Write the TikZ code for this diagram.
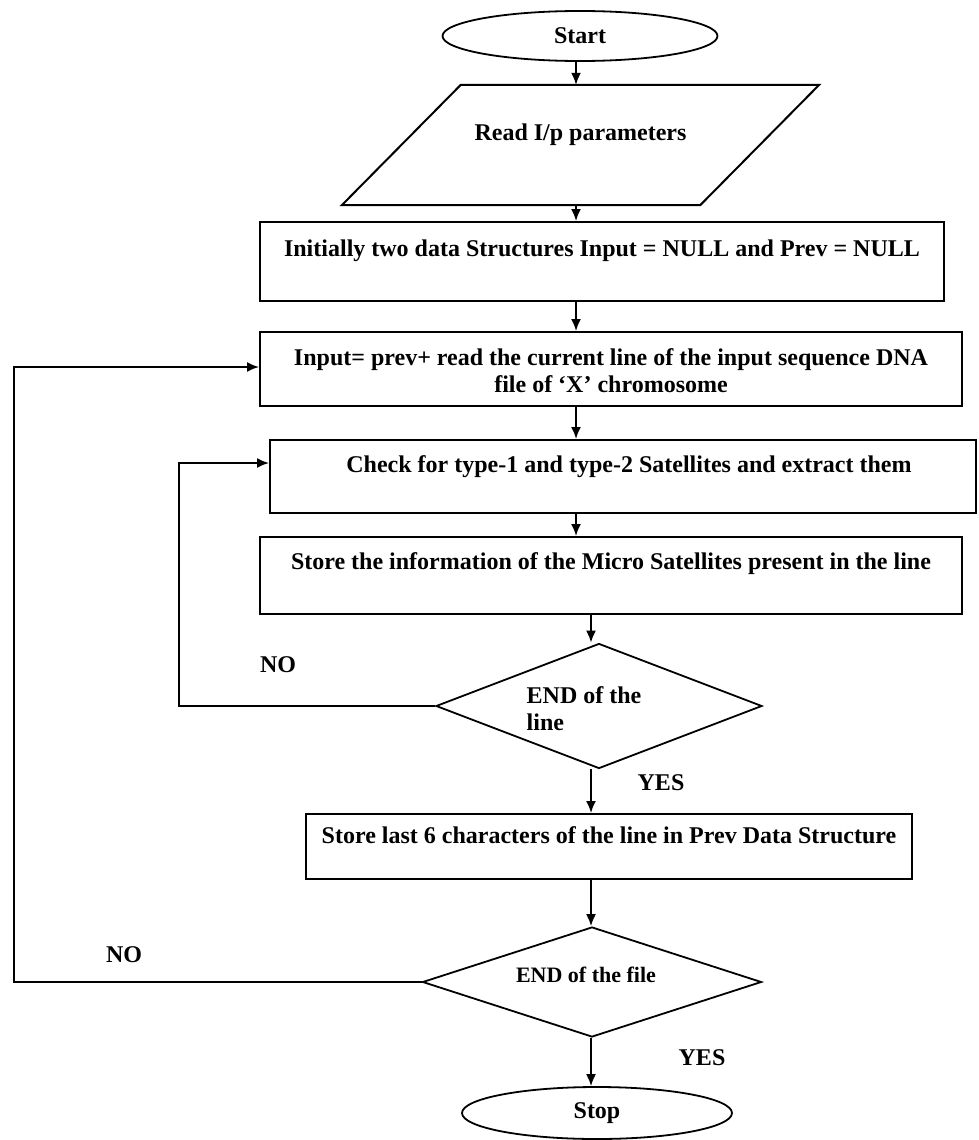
\documentclass[tikz,border=0pt]{standalone}
\usepackage{fontspec}
\setmainfont{Liberation Serif}
\usetikzlibrary{shapes.geometric,arrows.meta}
\begin{document}
\begin{tikzpicture}[x=1pt,y=-1pt,
  every node/.style={font=\bfseries\fontsize{24}{27}\selectfont},
  proc/.style={draw, line width=2pt, rectangle, inner sep=0pt, align=center},
  term/.style={draw, line width=1.8pt, ellipse, inner sep=0pt},
  dec/.style={draw, line width=1.8pt, diamond, inner sep=0pt},
  arr/.style={line width=1.8pt, -{Latex[length=12pt,width=10pt]}},
  lbl/.style={inner sep=0pt}]
\fill[white] (0,0) rectangle (978,1140);
\useasboundingbox (0,0) rectangle (978,1140);

\coordinate (cA) at (576,0);
\coordinate (cB) at (591,0);
\coordinate (l1) at (179,463);
\coordinate (l2) at (14,367);

\node[term, minimum width=275pt, minimum height=50pt] (start) at (580,36) {Start};

\node[inner sep=0pt, minimum width=477pt, minimum height=120pt, text height=55pt, text depth=65pt] (read) at (580.5,145) {Read I/p parameters};
\draw[line width=2pt] ([xshift=119pt]read.north west) -- (read.north east) -- ([xshift=-119pt]read.south east) -- (read.south west) -- cycle;

\node[proc, minimum width=684pt, minimum height=79pt, text height=34pt, text depth=45pt] (b1) at (602,261.5) {Initially two data Structures Input = NULL and Prev = NULL};

\node[proc, minimum width=702pt, minimum height=74pt, text height=60pt, text depth=14pt] (b2) at (611,369) {Input= prev+ read the current line of the input sequence DNA\\file of ‘X’ chromosome};

\node[proc, minimum width=706pt, minimum height=73pt, text height=32pt, text depth=41pt] (b3) at (623,476.5) {\hspace*{12pt}Check for type-1 and type-2 Satellites and extract them};

\node[proc, minimum width=702pt, minimum height=77pt, text height=32pt, text depth=45pt] (b4) at (611,575.5) {Store the information of the Micro Satellites present in the line};

\node[dec, minimum width=326pt, minimum height=125pt] (d1) at (599,706) {};
\node[lbl, align=left] (d1t) at (584,709) {END of the\\line};

\node[proc, minimum width=606pt, minimum height=65pt, text height=29pt, text depth=36pt] (b5) at (609,846.5) {Store last 6 characters of the line in Prev Data Structure};

\node[dec, minimum width=339pt, minimum height=110pt] (d2) at (592,982) {};
\node[lbl, font=\bfseries\fontsize{22}{26}\selectfont] (d2t) at (586,975) {END of the file};

\node[term, minimum width=270pt, minimum height=52pt] (stop) at (597,1113) {Stop};

\draw[arr] (start.south -| cA) -- (read.north -| cA);
\draw[arr] (read.south -| cA) -- (b1.north -| cA);
\draw[arr] (b1.south -| cA) -- (b2.north -| cA);
\draw[arr] (b2.south -| cA) -- (b3.north -| cA);
\draw[arr] (b3.south -| cA) -- (b4.north -| cA);
\draw[arr] (b4.south -| cB) -- (d1.north -| cB);
\draw[arr] (d1.south -| cB) -- (b5.north -| cB);
\draw[arr] (b5.south -| cB) -- (d2.north -| cB);
\draw[arr] (d2.south -| cB) -- (stop.north -| cB);
\draw[arr] (d1.west) -| (l1) -- (l1 -| b3.west);
\draw[arr] (d2.west) -| (l2) -- (l2 -| b2.west);

\node[lbl] (no1) at (278,665) {NO};
\node[lbl] (yes1) at (661,783) {YES};
\node[lbl] (no2) at (124,955) {NO};
\node[lbl] (yes2) at (702,1058) {YES};
\end{tikzpicture}
\end{document}
